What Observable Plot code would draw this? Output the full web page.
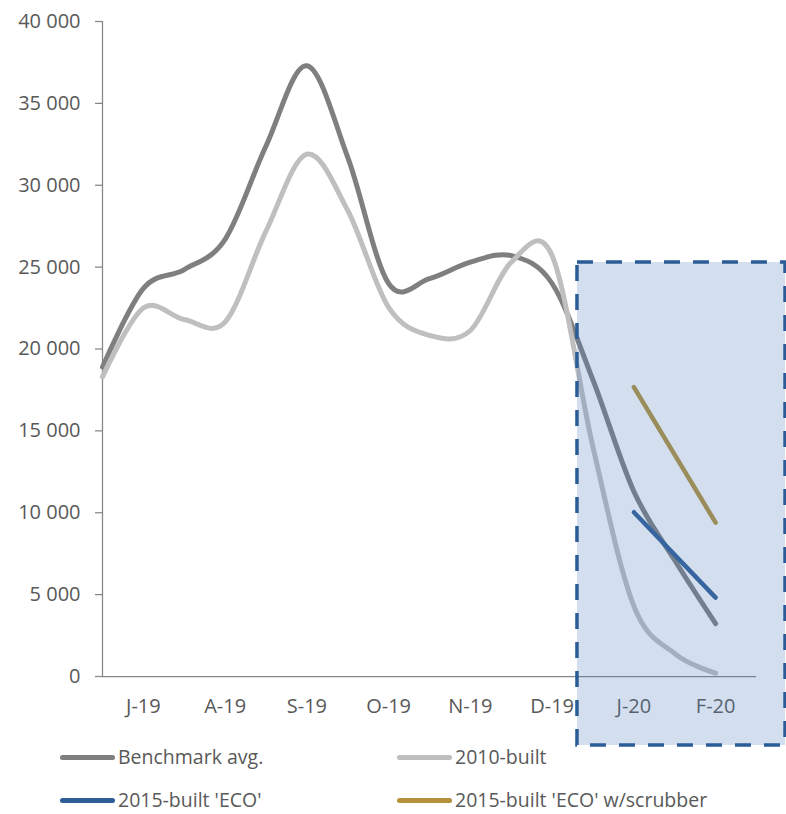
<!DOCTYPE html>
<html>
<head>
<meta charset="utf-8">
<script src="https://cdn.jsdelivr.net/npm/d3@7"></script>
<script src="https://cdn.jsdelivr.net/npm/@observablehq/plot@0.6"></script>
<style>
  html, body { margin: 0; padding: 0; background: #fff; overflow: hidden; }
  #chart { width: 786px; height: 748px; }
  #legend { position: relative; width: 786px; height: 66px; font-family: "Open Sans", sans-serif; font-size: 19.5px; color: #595959; }
  .item { position: absolute; display: flex; align-items: center; height: 20px; line-height: 20px; white-space: nowrap; }
  .sw { width: 55px; height: 5px; border-radius: 3px; margin-right: 3px; }
</style>
</head>
<body>
<div id="chart"></div>
<div id="legend"></div>
<script>
// Categories (month labels) and positions
const categories = ["J-19", "A-19", "S-19", "O-19", "N-19", "D-19", "J-20", "F-20"];
// half-month steps for the smoothed grey series (index 0 = J-19)
const halfSteps = [-0.5, 0, 0.5, 1, 1.5, 2, 2.5, 3, 3.5, 4, 4.5, 5, 5.5, 6, 6.5, 7];
const benchmarkAvg = [18900, 23700, 24850, 26700, 32400, 37300, 31700, 24000, 24300, 25300, 25700, 24000, 18100, 11300, 7100, 3230];
const built2010 = [18300, 22500, 21800, 21650, 27200, 31900, 28460, 22540, 20830, 21130, 25300, 25700, 14000, 4300, 1400, 200];
const ecoSteps = [6, 7];
const eco2015 = [10030, 4820];
const eco2015Scrubber = [17670, 9400];
const yTicks = [0, 5000, 10000, 15000, 20000, 25000, 30000, 35000, 40000];
// highlight box (x in month index, y in value units)
const highlightX = [5.31, 7.855];
const highlightY = [-4210, 25280];

const seriesNames = ["Benchmark avg.", "2010-built", "2015-built 'ECO'", "2015-built 'ECO' w/scrubber"];
const seriesColors = ["#7f7f7f", "#bfbfbf", "#2f5d96", "#b3923b"];

const toRows = (xs, ys) => xs.map((x, i) => ({x, y: ys[i]}));

const fmt = d => d3.format(",")(d).replace(/,/g, " ");

const chart = Plot.plot({
  width: 786,
  height: 748,
  marginLeft: 102,
  marginRight: 30,
  marginTop: 21,
  marginBottom: 72,
  x: {type: "linear", domain: [-0.5, 7.5]},
  y: {domain: [0, 40000]},
  style: {fontFamily: "'Open Sans', sans-serif", fontSize: "20px", color: "#595959", background: "white", overflow: "visible"},
  marks: [
    Plot.axisY({ticks: yTicks, tickSize: 7, tickPadding: 15, tickFormat: fmt, stroke: "#868686", strokeWidth: 1.25, label: null}),
    Plot.axisX({ticks: d3.range(categories.length), tickSize: 0, tickPadding: 22, tickFormat: i => categories[i], label: null}),
    Plot.ruleX([-0.5], {stroke: "#868686", strokeWidth: 1.25}),
    Plot.ruleY([0], {stroke: "#868686", strokeWidth: 1.25}),
    Plot.line(toRows(halfSteps, benchmarkAvg), {x: "x", y: "y", stroke: seriesColors[0], strokeWidth: 5, curve: "cardinal", strokeLinecap: "round"}),
    Plot.line(toRows(halfSteps, built2010), {x: "x", y: "y", stroke: seriesColors[1], strokeWidth: 5, curve: "cardinal", strokeLinecap: "round"}),
    Plot.line(toRows(ecoSteps, eco2015), {x: "x", y: "y", stroke: seriesColors[2], strokeWidth: 4.5, strokeLinecap: "round"}),
    Plot.line(toRows(ecoSteps, eco2015Scrubber), {x: "x", y: "y", stroke: seriesColors[3], strokeWidth: 4.5, strokeLinecap: "round"}),
    Plot.rect([{x1: highlightX[0], x2: highlightX[1], y1: highlightY[0], y2: highlightY[1]}], {
      x1: "x1", x2: "x2", y1: "y1", y2: "y2",
      fill: "#4f81bd", fillOpacity: 0.25,
      stroke: "#2c5c98", strokeWidth: 3.5, strokeDasharray: "16,13"
    })
  ]
});
document.getElementById("chart").appendChild(chart);

// Legend
const legend = document.getElementById("legend");
const pos = [[60, -1], [397, -1], [60, 42], [397, 42]];
seriesNames.forEach((name, i) => {
  const it = document.createElement("div");
  it.className = "item";
  it.style.left = pos[i][0] + "px";
  it.style.top = pos[i][1] + "px";
  const sw = document.createElement("span");
  sw.className = "sw";
  sw.style.background = seriesColors[i];
  const tx = document.createElement("span");
  tx.textContent = name;
  it.appendChild(sw);
  it.appendChild(tx);
  legend.appendChild(it);
});
</script>
</body>
</html>
